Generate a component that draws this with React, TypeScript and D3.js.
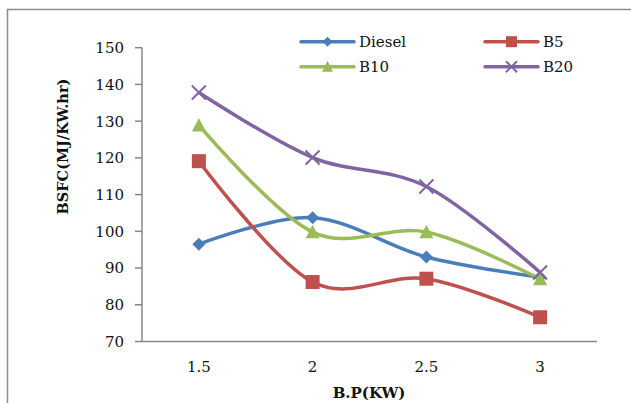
import React from 'react';
import * as d3 from 'd3';

const categories = ['1.5', '2', '2.5', '3'];
const diesel = [96.5, 103.7, 93, 87.5];
const b5 = [119.1, 86.2, 87.1, 76.6];
const b10 = [128.9, 99.8, 99.8, 87];
const b20 = [137.8, 120.1, 112.2, 88.8];
const yTicks = [70, 80, 90, 100, 110, 120, 130, 140, 150];

const series = [
  { name: 'Diesel', values: diesel, color: '#4A7EBB', marker: 'diamond' },
  { name: 'B5', values: b5, color: '#C0504D', marker: 'square' },
  { name: 'B10', values: b10, color: '#9BBB59', marker: 'triangle' },
  { name: 'B20', values: b20, color: '#8064A2', marker: 'x' },
];

const FONT = '"DejaVu Serif", "Liberation Serif", serif';

function Marker({ type, x, y, color, s }: { type: string; x: number; y: number; color: string; s: number }) {
  if (type === 'diamond') {
    return <path d={`M${x},${y - s * 0.5}L${x + s * 0.5},${y}L${x},${y + s * 0.5}L${x - s * 0.5},${y}Z`} fill={color} />;
  }
  if (type === 'square') {
    return <rect x={x - s / 2} y={y - s / 2} width={s} height={s} fill={color} />;
  }
  if (type === 'triangle') {
    const h = s * 0.9;
    return <path d={`M${x},${y - h / 2 - 1}L${x + s / 2},${y + h / 2}L${x - s / 2},${y + h / 2}Z`} fill={color} />;
  }
  const r = s / 2;
  return (
    <path d={`M${x - r},${y - r}L${x + r},${y + r}M${x - r},${y + r}L${x + r},${y - r}`} stroke={color} strokeWidth={2} fill="none" />
  );
}

export default function App() {
  const left = 142;
  const right = 597;
  const top = 47.7;
  const bottom = 341.5;

  const x = d3.scaleBand().domain(categories).range([left, right]);
  const y = d3.scaleLinear().domain([70, 150]).range([bottom, top]);

  const line = d3
    .line<number>()
    .x((_, i) => (x(categories[i]) as number) + x.bandwidth() / 2)
    .y(d => y(d))
    .curve(d3.curveCardinal.tension(0));

  const legendItems = [
    { s: series[0], lx: 301, ly: 41.7 },
    { s: series[1], lx: 485, ly: 41.7 },
    { s: series[2], lx: 301, ly: 66.7 },
    { s: series[3], lx: 485, ly: 66.7 },
  ];

  return (
    <svg width={631} height={403} style={{ position: 'absolute', left: 0, top: 0, background: '#fff' }} fontFamily={FONT}>
      <rect x={7.5} y={9.5} width={700} height={500} fill="#fff" stroke="#8c8c8c" strokeWidth={1.5} />

      {/* y axis */}
      <line x1={left} x2={left} y1={top} y2={bottom} stroke="#888" strokeWidth={1.5} />
      {yTicks.map(t => (
        <g key={t}>
          <line x1={left - 7} x2={left} y1={y(t)} y2={y(t)} stroke="#888" strokeWidth={1.5} />
          <text x={124} y={y(t)} dy="0.36em" textAnchor="end" fontSize={15} fill="#111">
            {t}
          </text>
        </g>
      ))}

      {/* x axis */}
      <line x1={left} x2={right} y1={bottom} y2={bottom} stroke="#888" strokeWidth={1.5} />
      {categories.map(c => (
        <text key={c} x={(x(c) as number) + x.bandwidth() / 2} y={372} textAnchor="middle" fontSize={15} fill="#111">
          {c}
        </text>
      ))}

      <text x={369} y={398} textAnchor="middle" fontSize={15} fontWeight="bold" fill="#111">
        B.P(KW)
      </text>
      <text
        transform="translate(68,146.5) rotate(-90)"
        textAnchor="middle"
        fontSize={14.5}
        fontWeight="bold"
        fill="#111"
      >
        BSFC(MJ/KW.hr)
      </text>

      {series.map(s => (
        <g key={s.name}>
          <path d={line(s.values) as string} fill="none" stroke={s.color} strokeWidth={3.5} />
          {s.values.map((v, i) => (
            <Marker
              key={i}
              type={s.marker}
              x={(x(categories[i]) as number) + x.bandwidth() / 2}
              y={y(v)}
              color={s.color}
              s={s.marker === 'diamond' ? 13 : 14}
            />
          ))}
        </g>
      ))}

      {legendItems.map(({ s, lx, ly }) => (
        <g key={s.name}>
          <line x1={lx} x2={lx + 53} y1={ly} y2={ly} stroke={s.color} strokeWidth={3.5} strokeLinecap="round" />
          <Marker type={s.marker} x={lx + 26.5} y={ly} color={s.color} s={s.marker === 'diamond' ? 10 : 11} />
          <text x={lx + 58} y={ly} dy="0.36em" fontSize={15} fill="#111">
            {s.name}
          </text>
        </g>
      ))}
    </svg>
  );
}
